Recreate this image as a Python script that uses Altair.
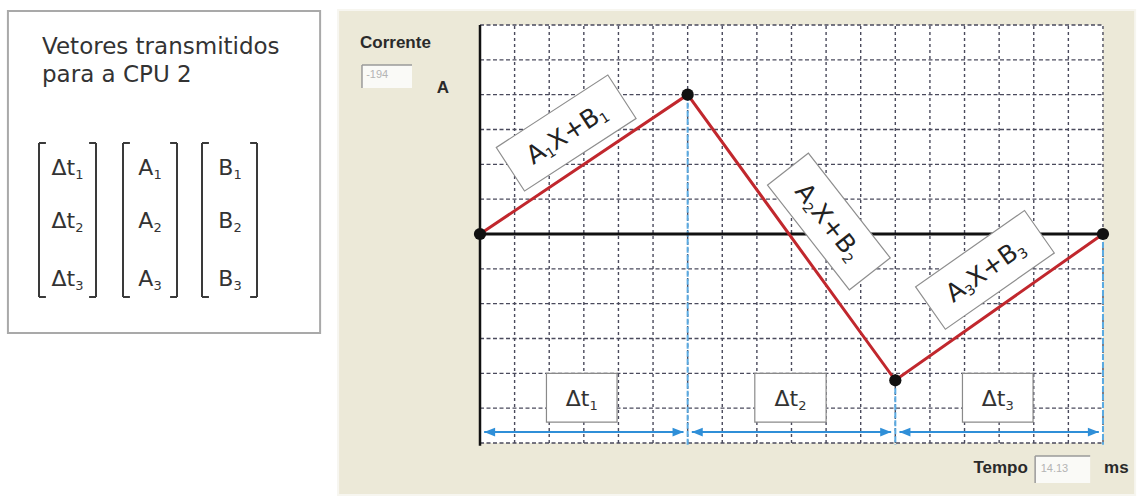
import altair as alt
import pandas as pd

# ---- piecewise-linear current waveform (grid divisions: 18 in time, 12 in current) ----
t_break = [0, 6, 12, 18]
i_break = [0, 4, -4.2, 0]

segment_index = ["1", "2", "3"]          # subscripts of A_k X + B_k and Δt_k
vector_names = ["Δt", "A", "B"]          # columns sent to CPU 2

title_lines = ["Vetores transmitidos", "para a CPU 2"]
current_value = "-194"
time_value = "14.13"

grid_t = list(range(1, 19))
grid_i = [v for v in range(-6, 7) if v != 0]

# ---- layout (in grid divisions) ----
PX = 34.61                                # pixels per grid division
seg_box_t = [2.49, 10.08, 14.59]
seg_box_i = [2.90, 0.36, -1.03]
seg_box_angle = [327, 52, 325]
dt_box_t0 = [1.92, 7.94, 13.94]
dt_box_t1 = [3.96, 10.0, 15.98]
vec_col_t = [-11.92, -9.535, -7.223]
vec_row_i = [1.924, 0.402, -1.263]
bracket_open = [-12.742, -10.315, -8.032]
bracket_close = [-11.095, -8.755, -6.443]
bracket_top, bracket_bottom, serif = 2.613, -1.809, 0.2

GRID = "#4a4a5c"
BLUE = "#2f8fd8"
BLUE_LIGHT = "#5aaae2"
RED = "#c1272d"
INK = "#333333"
SANS = "DejaVu Sans"
ARIAL = "Liberation Sans"
MAIN, SUB = 22, 13                         # font sizes of symbols and subscripts
EQ_MAIN, EQ_SUB = 25, 14                   # font sizes inside the equation boxes
EM = {"Δt": 1.076, "A": 0.684, "B": 0.686, "X+B": 2.209}   # DejaVu advance widths (em)
DIGIT = 0.636

XS = alt.Scale(domain=[-13.869, 19.012], nice=False, zero=False)
YS = alt.Scale(domain=[-7.608, 6.718], nice=False, zero=False)


def X(f="x"):
    return alt.X(f"{f}:Q", scale=XS, axis=None)


def Y(f="y"):
    return alt.Y(f"{f}:Q", scale=YS, axis=None)


def X2(f="x2"):
    return alt.X2(f"{f}:Q")


def Y2(f="y2"):
    return alt.Y2(f"{f}:Q")


def box(x, x2, y, y2):
    return pd.DataFrame({"x": [x], "x2": [x2], "y": [y], "y2": [y2]})


def rect(df, **style):
    return alt.Chart(df).mark_rect(**style).encode(x=X(), x2=X2(), y=Y(), y2=Y2())


def label(df, **style):
    return alt.Chart(df).mark_text(**style).encode(x=X(), y=Y(), text="text:N")


def subscripted(names, subs, xs, ys):
    """Main symbol right-aligned and subscript left-aligned at a shared anchor, centred on (x, y)."""
    rows_main, rows_sub = [], []
    sub_w = DIGIT * SUB
    for name, sub, x, y in zip(names, subs, xs, ys):
        w = EM[name] * MAIN
        anchor = x + (w - sub_w) / 2 / PX
        rows_main.append({"x": anchor, "y": y, "text": name})
        rows_sub.append({"x": anchor, "y": y, "text": sub})
    main = label(pd.DataFrame(rows_main), font=SANS, fontSize=MAIN, color=INK,
                 align="right", baseline="alphabetic", dy=8)
    low = label(pd.DataFrame(rows_sub), font=SANS, fontSize=SUB, color=INK,
                align="left", baseline="alphabetic", dy=12)
    return [main, low]


layers = []

# panels
layers.append(rect(box(-4.10, 18.93, 6.43, -7.49), fill="#ece9d8", stroke="#f7f6f0", strokeWidth=2))
layers.append(rect(box(-13.64, -4.62, 6.40, -2.84), fill="white", stroke="#a9a9a9", strokeWidth=2))
layers.append(rect(box(0, 18, -6, 6), fill="white"))

# dotted grid
layers.append(
    alt.Chart(pd.DataFrame({"x": grid_t, "y": -6, "y2": 6}))
    .mark_rule(color=GRID, strokeWidth=1.4, strokeDash=[3, 3])
    .encode(x=X(), y=Y(), y2=Y2())
)
layers.append(
    alt.Chart(pd.DataFrame({"y": grid_i, "x": 0, "x2": 18}))
    .mark_rule(color=GRID, strokeWidth=1.4, strokeDash=[4, 2.5])
    .encode(x=X(), x2=X2(), y=Y())
)

# drop lines from each breakpoint to the interval arrows
layers.append(
    alt.Chart(pd.DataFrame({"x": t_break[1:], "y": i_break[1:], "y2": -6.05}))
    .mark_rule(color=BLUE_LIGHT, strokeWidth=2, strokeDash=[6, 2])
    .encode(x=X(), y=Y(), y2=Y2())
)

# interval arrows
arrow_y = -5.685
arrows = pd.DataFrame({
    "x": [t + 0.12 for t in t_break[:-1]],
    "x2": [t - 0.12 for t in t_break[1:]],
    "y": arrow_y,
})
layers.append(alt.Chart(arrows).mark_rule(color=BLUE, strokeWidth=2).encode(x=X(), x2=X2(), y=Y()))
layers.append(
    alt.Chart(arrows).mark_point(shape="M0,0L2,-0.8L2,0.8Z", size=120, filled=True, fill=BLUE, opacity=1)
    .encode(x=X("x"), y=Y())
)
layers.append(
    alt.Chart(arrows).mark_point(shape="M0,0L-2,-0.8L-2,0.8Z", size=120, filled=True, fill=BLUE, opacity=1)
    .encode(x=X("x2"), y=Y())
)

# axes
layers.append(
    alt.Chart(pd.DataFrame({"x": [0], "y": [6], "y2": [-6.08]}))
    .mark_rule(color="#111111", strokeWidth=2.5)
    .encode(x=X(), y=Y(), y2=Y2())
)
layers.append(
    alt.Chart(pd.DataFrame({"x": [0], "x2": [18], "y": [0]}))
    .mark_rule(color="#111111", strokeWidth=3)
    .encode(x=X(), x2=X2(), y=Y())
)

# interval boxes Δt_k
dt_df = pd.DataFrame({"x": dt_box_t0, "x2": dt_box_t1, "y": -4.0, "y2": -5.4})
layers.append(rect(dt_df, fill="white", stroke="#8a8a8a", strokeWidth=1.2))
layers += subscripted(["Δt"] * 3, segment_index,
                      list((dt_df["x"] + dt_df["x2"]) / 2), [-4.72] * 3)

# segment equation boxes A_k X + B_k
seg_df = pd.DataFrame({"x": seg_box_t, "y": seg_box_i, "angle": seg_box_angle,
                       "sub": segment_index})
layers.append(
    alt.Chart(seg_df)
    .mark_point(shape="M-1,-0.39H1V0.39H-1Z", size=133 ** 2, filled=True, fill="white",
                stroke="#8e8e8e", strokeWidth=1.2, opacity=1)
    .encode(x=X(), y=Y(), angle=alt.Angle("angle:Q", scale=None))
)
w_a = EM["A"] * EQ_MAIN
w_xb = EM["X+B"] * EQ_MAIN
w_sub = DIGIT * EQ_SUB
start = -(w_a + w_xb + 2 * w_sub) / 2
pieces = [
    ("A", EQ_MAIN, start, 9),
    (None, EQ_SUB, start + w_a, 13),
    ("X+B", EQ_MAIN, start + w_a + w_sub, 9),
    (None, EQ_SUB, start + w_a + w_sub + w_xb, 13),
]
for txt, size, dx, dy in pieces:
    df = seg_df.copy()
    df["text"] = df["sub"] if txt is None else txt
    layers.append(
        alt.Chart(df)
        .mark_text(font=SANS, fontSize=size, color="#222222", align="left",
                   baseline="alphabetic", dx=dx, dy=dy)
        .encode(x=X(), y=Y(), text="text:N", angle=alt.Angle("angle:Q", scale=None))
    )

# waveform
wave = pd.DataFrame({"x": t_break, "y": i_break, "k": range(len(t_break))})
layers.append(
    alt.Chart(wave).mark_line(color=RED, strokeWidth=3).encode(x=X(), y=Y(), order="k:O")
)
layers.append(alt.Chart(wave).mark_circle(size=150, color="#111111", opacity=1).encode(x=X(), y=Y()))

# transmitted vectors
layers.append(label(
    pd.DataFrame({"x": -12.655, "y": [5.37, 4.565], "text": title_lines}),
    font=SANS, fontSize=23, color=INK, align="left", baseline="middle",
))
names, subs, xs, ys = [], [], [], []
for col_t, name in zip(vec_col_t, vector_names):
    for row_i, sub in zip(vec_row_i, segment_index):
        names.append(name)
        subs.append(sub)
        xs.append(col_t)
        ys.append(row_i)
layers += subscripted(names, subs, xs, ys)

b_vert = pd.DataFrame({"x": bracket_open + bracket_close, "y": bracket_top, "y2": bracket_bottom})
layers.append(
    alt.Chart(b_vert).mark_rule(color="#3a3a3a", strokeWidth=2).encode(x=X(), y=Y(), y2=Y2())
)
serifs = []
for xo, xc in zip(bracket_open, bracket_close):
    for yy in (bracket_top, bracket_bottom):
        serifs.append({"x": xo, "x2": xo + serif, "y": yy})
        serifs.append({"x": xc - serif, "x2": xc, "y": yy})
layers.append(
    alt.Chart(pd.DataFrame(serifs)).mark_rule(color="#3a3a3a", strokeWidth=2).encode(x=X(), x2=X2(), y=Y())
)

# current readout
layers.append(label(pd.DataFrame({"x": [-3.467], "y": [5.484], "text": ["Corrente"]}),
                    font=ARIAL, fontSize=17, fontWeight="bold", color="#2a2a2a", align="left", baseline="middle"))
layers.append(rect(box(-3.41, -1.965, 4.852, 4.192), fill="#fafaf7"))
layers.append(
    alt.Chart(pd.DataFrame({"x": [-3.41, -3.41], "x2": [-1.965, -3.41], "y": [4.852, 4.852], "y2": [4.852, 4.192]}))
    .mark_rule(color="#9a9a9a", strokeWidth=1.5).encode(x=X(), x2=X2(), y=Y(), y2=Y2())
)
layers.append(label(pd.DataFrame({"x": [-3.29], "y": [4.565], "text": [current_value]}),
                    font=ARIAL, fontSize=11, color="#b4b4b4", align="left", baseline="middle"))
layers.append(label(pd.DataFrame({"x": [-1.069], "y": [4.19], "text": ["A"]}),
                    font=ARIAL, fontSize=17, fontWeight="bold", color="#2a2a2a", baseline="middle"))

# time readout
layers.append(label(pd.DataFrame({"x": [15.83], "y": [-6.72], "text": ["Tempo"]}),
                    font=ARIAL, fontSize=17, fontWeight="bold", color="#2a2a2a", align="right", baseline="middle"))
layers.append(rect(box(16.04, 17.63, -6.37, -7.15), fill="#fafaf7"))
layers.append(
    alt.Chart(pd.DataFrame({"x": [16.04, 16.04], "x2": [17.63, 16.04], "y": [-6.37, -6.37], "y2": [-6.37, -7.15]}))
    .mark_rule(color="#9a9a9a", strokeWidth=1.5).encode(x=X(), x2=X2(), y=Y(), y2=Y2())
)
layers.append(label(pd.DataFrame({"x": [16.2], "y": [-6.76], "text": [time_value]}),
                    font=ARIAL, fontSize=11, color="#b4b4b4", align="left", baseline="middle"))
layers.append(label(pd.DataFrame({"x": [18.03], "y": [-6.72], "text": ["ms"]}),
                    font=ARIAL, fontSize=17, fontWeight="bold", color="#2a2a2a", align="left", baseline="middle"))

chart = (
    alt.layer(*layers)
    .properties(width=1138, height=499, padding=0,
                autosize=alt.AutoSizeParams(type="none"), background="white")
    .configure_view(stroke=None)
)

chart.save("out.html", embed_options={"renderer": "svg", "actions": False})
